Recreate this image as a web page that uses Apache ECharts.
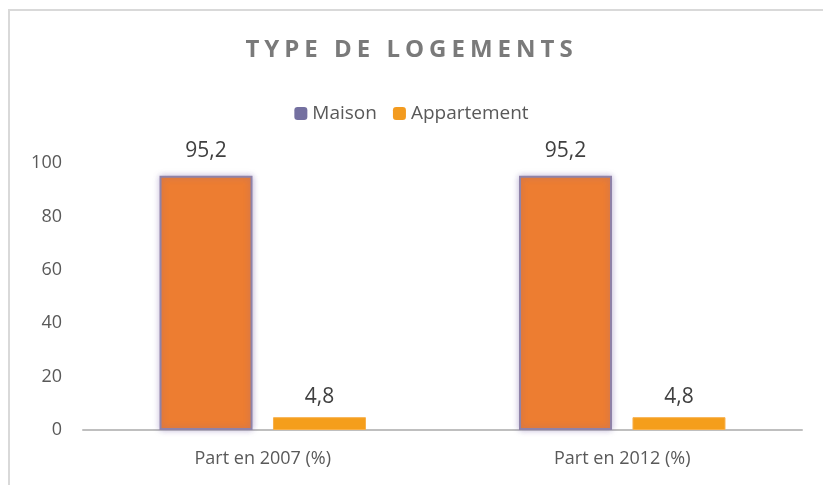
<!DOCTYPE html>
<html>
<head>
<meta charset="utf-8">
<script src="https://cdn.jsdelivr.net/npm/echarts@6/dist/echarts.min.js"></script>
<style>
  * { margin: 0; padding: 0; }
  body { background: #fff; }
  #frame {
    position: absolute; left: 8px; top: 9px; width: 830px; height: 500px;
    border-top: 2px solid #d9d9d9; border-left: 2px solid #d9d9d9;
  }
  #title {
    position: absolute; left: 0; top: 31px; width: 823px; text-align: center;
    font-family: "Open Sans", sans-serif; font-weight: bold; font-size: 24px;
    letter-spacing: 5px; color: #7a7a7a;
  }
  #main { position: absolute; left: 0; top: 0; width: 823px; height: 485px; }
</style>
</head>
<body>
<div id="frame"></div>
<div id="main"></div>
<div id="title">TYPE DE LOGEMENTS</div>
<script>
// catégories et valeurs (%)
var categories = ['Part en 2007 (%)', 'Part en 2012 (%)'];
var maison = [95.2, 95.2];
var appartement = [4.8, 4.8];
var yTicks = [0, 20, 40, 60, 80, 100];

var chart = echarts.init(document.getElementById('main'));
var fmt = function (p) { return String(p.value).replace('.', ','); };

chart.setOption({
  textStyle: { fontFamily: 'Open Sans, sans-serif' },
  animation: false,
  legend: {
    top: 99,
    left: 'center',
    itemWidth: 13,
    itemHeight: 13,
    itemGap: 16,
    textStyle: { fontSize: 19, color: '#595959', fontFamily: 'Open Sans, sans-serif' },
    data: [
      { name: 'Maison', itemStyle: { color: '#7470a0', borderWidth: 0, shadowBlur: 0 } },
      { name: 'Appartement', itemStyle: { color: '#f39b1f', borderWidth: 0 } }
    ]
  },
  grid: { left: 83, right: 21, top: 163, bottom: 55 },
  xAxis: {
    type: 'category',
    data: categories,
    axisLine: { lineStyle: { color: '#bfbfbf', width: 2 } },
    axisTick: { show: false },
    axisLabel: { fontSize: 18, color: '#595959', margin: 20 }
  },
  yAxis: {
    type: 'value',
    min: yTicks[0],
    max: yTicks[yTicks.length - 1],
    interval: 20,
    splitLine: { show: false },
    axisLine: { show: false },
    axisTick: { show: false },
    axisLabel: { fontSize: 18, color: '#595959', margin: 21 }
  },
  series: [
    {
      name: 'Maison',
      type: 'bar',
      data: maison,
      barWidth: 93,
      barGap: '22%',
      itemStyle: {
        color: '#ed7d31',
        borderColor: '#8f82a8',
        borderWidth: 2,
        shadowColor: 'rgba(120,100,170,0.45)',
        shadowBlur: 6
      },
      label: { show: true, position: 'top', distance: 14, fontSize: 21, color: '#404040', formatter: fmt }
    },
    {
      name: 'Appartement',
      type: 'bar',
      data: appartement,
      barWidth: 93,
      itemStyle: { color: '#f59e1b', borderColor: '#f8b04a', borderWidth: 1 },
      label: { show: true, position: 'top', distance: 10, fontSize: 21, color: '#404040', formatter: fmt }
    }
  ]
});
</script>
</body>
</html>
